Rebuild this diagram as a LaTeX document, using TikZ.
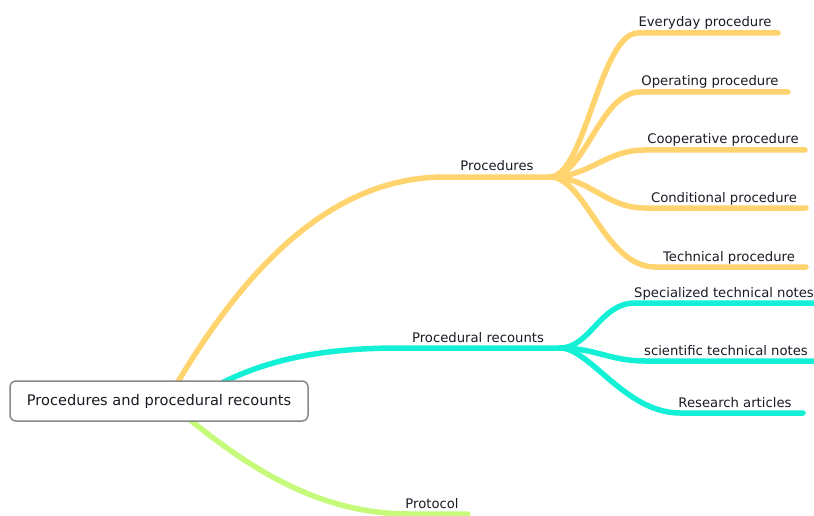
\documentclass[tikz,border=0pt]{standalone}
\usepackage{fontspec}
\setmainfont{DejaVu Sans}
\usetikzlibrary{backgrounds}
\definecolor{corange}{HTML}{FFD36E}
\definecolor{ccyan}{HTML}{14F0D6}
\definecolor{cgreen}{HTML}{C5FA7A}
\definecolor{boxgrey}{HTML}{888888}
\definecolor{txt}{HTML}{1A1A24}
\begin{document}
\begin{tikzpicture}[x=1pt,y=-1pt,
  branch/.style={line width=5.5pt, line cap=round},
  lbl/.style={anchor=base, font=\fontsize{13.2}{15}\selectfont, text=txt, inner sep=0pt},
  rootbox/.style={draw=boxgrey, line width=1.5pt, rounded corners=6pt, fill=white,
    minimum width=298pt, minimum height=40pt, inner sep=0pt, text=txt,
    font=\fontsize{14.6}{16}\selectfont}]
\useasboundingbox (0,0) rectangle (814,516);

\node[rootbox] (root) at (159,401) {Procedures and procedural recounts};

% labels
\node[lbl] (procs) at (497,171) {Procedures};
\node[lbl] (every) at (705,27) {Everyday procedure};
\node[lbl] (oper) at (710,86) {Operating procedure};
\node[lbl] (coop) at (723,144) {Cooperative procedure};
\node[lbl] (cond) at (724,202) {Conditional procedure};
\node[lbl] (tech) at (729,261) {Technical procedure};
\node[lbl] (recs) at (478,342) {Procedural recounts};
\node[lbl] (spec) at (724,297) {Specialized technical notes};
\node[lbl] (sci) at (726,355) {scientific technical notes};
\node[lbl] (res) at (735,407) {Research articles};
\node[lbl] (prot) at (432,508) {Protocol};

% coordinates
\coordinate (ps) at (172,392);
\coordinate (pa) at (445,177);
\coordinate (po) at (550,177);
\coordinate (e1) at (638,33);  \coordinate (e2) at (778,33);
\coordinate (op1) at (640,92); \coordinate (op2) at (788,92);
\coordinate (co1) at (645,150); \coordinate (co2) at (805,150);
\coordinate (cd1) at (645,208); \coordinate (cd2) at (806,208);
\coordinate (te1) at (655,267); \coordinate (te2) at (806,267);
\coordinate (rs) at (205,392);
\coordinate (ra) at (400,348);
\coordinate (ro) at (560,348);
\coordinate (sp1) at (635,303); \coordinate (sp2) at (816,303);
\coordinate (sc1) at (645,361); \coordinate (sc2) at (816,361);
\coordinate (re1) at (680,413); \coordinate (re2) at (803,413);
\coordinate (gs) at (178,410);
\coordinate (ga) at (410,514);
\coordinate (ge) at (468,514);

\begin{scope}[on background layer]
% orange
\draw[branch, corange] (root.center) -- (ps) .. controls (260,240) and (350,177) .. (pa) -- (po);
\draw[branch, corange] (po) .. controls (585,177) and (600,33) .. (e1) -- (e2);
\draw[branch, corange] (po) .. controls (585,177) and (600,92) .. (op1) -- (op2);
\draw[branch, corange] (po) .. controls (590,177) and (605,150) .. (co1) -- (co2);
\draw[branch, corange] (po) .. controls (590,177) and (605,208) .. (cd1) -- (cd2);
\draw[branch, corange] (po) .. controls (585,177) and (605,267) .. (te1) -- (te2);
% cyan
\draw[branch, ccyan] (root.center) -- (rs) .. controls (260,360) and (320,348) .. (ra) -- (ro);
\draw[branch, ccyan] (ro) .. controls (590,348) and (600,303) .. (sp1) -- (sp2);
\draw[branch, ccyan] (ro) .. controls (595,348) and (610,361) .. (sc1) -- (sc2);
\draw[branch, ccyan] (ro) .. controls (590,348) and (625,413) .. (re1) -- (re2);
% green
\draw[branch, cgreen] (root.center) -- (gs) .. controls (250,470) and (320,514) .. (ga) -- (ge);
\end{scope}
\end{tikzpicture}
\end{document}
